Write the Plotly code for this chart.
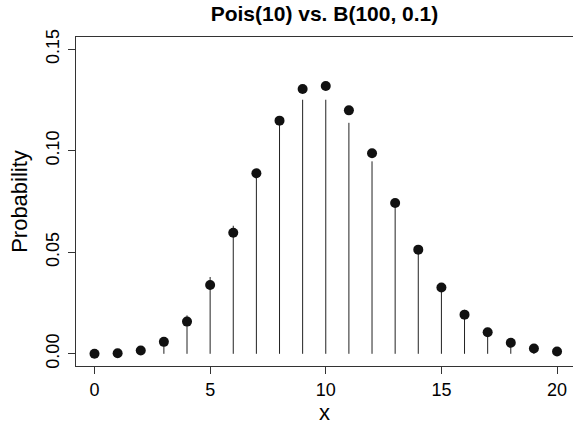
import plotly.graph_objects as go

x_vals = list(range(0, 21))
pois_pmf = [0.0000454, 0.000454, 0.00227, 0.00757, 0.01892, 0.03783, 0.06306,
            0.09008, 0.11260, 0.12511, 0.12511, 0.11374, 0.09478, 0.07291,
            0.05208, 0.03472, 0.02170, 0.01276, 0.00709, 0.00373, 0.00187]
binom_pmf = [0.0000266, 0.000295, 0.00162, 0.00589, 0.01587, 0.03387, 0.05958,
             0.08890, 0.11482, 0.13042, 0.13187, 0.11988, 0.09879, 0.07430,
             0.05130, 0.03268, 0.01929, 0.01059, 0.00543, 0.00260, 0.00117]
x_ticks = [0, 5, 10, 15, 20]
y_ticks = [0.00, 0.05, 0.10, 0.15]
y_tick_labels = ["0.00", "0.05", "0.10", "0.15"]

seg_x, seg_y = [], []
for k, p in zip(x_vals, pois_pmf):
    seg_x += [k, k, None]
    seg_y += [0, p, None]

fig = go.Figure()
fig.add_trace(go.Scatter(x=seg_x, y=seg_y, mode="lines",
                         line=dict(color="#222222", width=1),
                         hoverinfo="skip", showlegend=False))
fig.add_trace(go.Scatter(x=x_vals, y=binom_pmf, mode="markers",
                         marker=dict(color="#111111", size=10),
                         showlegend=False, cliponaxis=False))

W, H = 573, 426
font_family = "Liberation Sans, Arial, Helvetica, sans-serif"
fig.update_layout(
    width=W, height=H,
    margin=dict(l=76, r=0, t=37, b=60, autoexpand=False),
    paper_bgcolor="white", plot_bgcolor="white",
    font=dict(family=font_family, color="#000000", size=18),
    title=dict(text="<b>Pois(10) vs. B(100, 0.1)</b>", x=0.5, xref="paper",
               xanchor="center", y=1 - 14 / H, yref="container",
               yanchor="middle", font=dict(size=21, family=font_family)),
    xaxis=dict(range=[-0.8, 20.69], tickvals=x_ticks, ticks="outside",
               ticklen=7, tickcolor="#333333", showgrid=False, zeroline=False,
               showline=True, mirror=True, linecolor="#333333", linewidth=1,
               automargin=False,
               title=dict(text="x", standoff=4), tickfont=dict(size=18)),
    yaxis=dict(range=[-0.006, 0.156], tickvals=y_ticks, ticktext=y_tick_labels,
               ticks="outside", ticklen=7, tickcolor="#333333", tickangle=-90,
               ticklabelstandoff=2,
               showgrid=False, zeroline=False, showline=True, mirror=False,
               linecolor="#333333", linewidth=1, automargin=False,
               title=dict(text="Probability", standoff=9),
               tickfont=dict(size=18)),
)

fig.write_html("out.html",
               config={"displayModeBar": False},
               post_script="document.body.style.margin='0';")
